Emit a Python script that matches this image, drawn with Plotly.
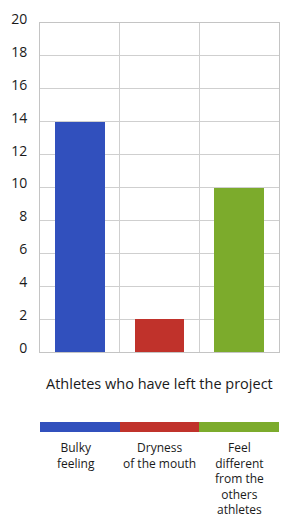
import plotly.graph_objects as go

categories = ["Bulky feeling", "Dryness of the mouth", "Feel different from the others athletes"]
values = [14, 2, 10]
colors = ["#3150bd", "#c0322b", "#7cab2c"]
y_ticks = [0, 2, 4, 6, 8, 10, 12, 14, 16, 18, 20]
strip_values = [1, 1, 1]
title_text = "Athletes who have left the project"
label_lines = [
    ["Bulky", "feeling"],
    ["Dryness", "of the mouth"],
    ["Feel", "different", "from the", "others", "athletes"],
]

W, H = 281, 522
mt, mb = 23, 90
plot_h = H - mt - mb
bottom_px = H - mb  # pixel y of plot area bottom


def py(p):
    return (bottom_px - p) / plot_h


FONT = "Open Sans"
TXT = "#1a1a1a"
GRID = "#cfcfcf"

fig = go.Figure()
fig.add_trace(go.Bar(x=categories, y=values, marker=dict(color=colors, line=dict(width=0)),
                     width=0.625, xaxis="x", yaxis="y", hoverinfo="skip"))
fig.add_trace(go.Bar(x=categories, y=strip_values, marker=dict(color=colors, line=dict(width=0)),
                     width=1.0, xaxis="x2", yaxis="y2", hoverinfo="skip"))

annotations = [dict(text=title_text, xref="paper", yref="paper", x=0.5, y=py(383),
                    xanchor="center", yanchor="middle", showarrow=False,
                    font=dict(family=FONT, size=14.5, color=TXT))]
for j, (cat, lines) in enumerate(zip(categories, label_lines)):
    annotations.append(dict(text="<br>".join(lines), xref="x", yref="paper", x=cat, y=py(438),
                            xanchor="center", yanchor="top", align="center", showarrow=False,
                            xshift=-4 if j == 0 else 0, borderpad=0,
                            font=dict(family=FONT, size=12, color=TXT)))

fig.update_layout(
    width=W, height=H,
    margin=dict(l=40, r=2, t=mt, b=mb, autoexpand=False),
    paper_bgcolor="white", plot_bgcolor="white",
    showlegend=False,
    bargap=0,
    xaxis=dict(type="category", range=[-0.5, 2.5], tickson="boundaries", showgrid=True,
               gridcolor=GRID, gridwidth=1, showticklabels=False, ticks="",
               showline=True, mirror=True, linecolor="#c4c4c4", linewidth=1,
               anchor="y", fixedrange=True, automargin=False),
    yaxis=dict(domain=[py(352), 1], range=[0, 20], tickvals=y_ticks, showgrid=True,
               gridcolor=GRID, gridwidth=1, zeroline=False, ticks="",
               showline=True, mirror=True, linecolor="#c4c4c4", linewidth=1,
               tickfont=dict(family=FONT, size=14, color=TXT),
               ticklabelstandoff=9, ticklabelshift=-4, anchor="x", automargin=False),
    xaxis2=dict(type="category", range=[-0.5, 2.5], anchor="y2", visible=False, matches="x",
                automargin=False),
    yaxis2=dict(domain=[0, py(422)], range=[0, 1], visible=False, anchor="x2", automargin=False),
    annotations=annotations,
    font=dict(family=FONT, color=TXT),
)

fig.write_html("out.html", post_script="document.body.style.margin='0px';",
               config={"displayModeBar": False})
